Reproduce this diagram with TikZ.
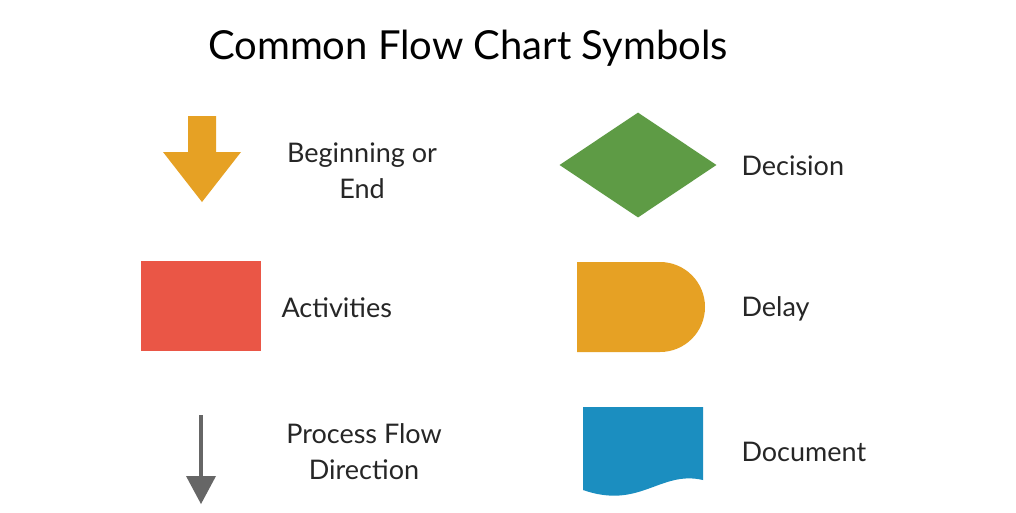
\documentclass[tikz,border=0pt]{standalone}
\usepackage{fontspec}
\setmainfont{Lato}
\usetikzlibrary{shapes.geometric}
\definecolor{symorange}{HTML}{E6A124}
\definecolor{symred}{HTML}{EA5646}
\definecolor{symgreen}{HTML}{5E9B45}
\definecolor{symblue}{HTML}{1B8EC0}
\definecolor{symgray}{HTML}{666666}
\tikzset{
  lbl/.style={font=\fontsize{27}{36}\selectfont, text=black!85, align=center},
  lblleft/.style={lbl, anchor=west}
}
\begin{document}
\begin{tikzpicture}[x=1pt,y=-1pt]
\useasboundingbox (0,0) rectangle (1016,512);
\fill[white] (0,0) rectangle (1016,512);
\node[font=\fontsize{40}{46}\selectfont] (title) at (468,48) {Common Flow Chart Symbols};
%%% left column
\fill[symorange] (188,116) -- (216,116) -- (216,152) -- (241,152) -- (202,202)
  -- (163,152) -- (188,152) -- cycle;
\node[lbl] (begin) at (362,171) {Beginning or\\End};
\fill[symred] (141,261) rectangle (261,351);
\node[lblleft] (act) at (278,308) {Activities};
\draw[symgray, line width=4pt] (201,415) -- (201,478);
\fill[symgray] (186,476) -- (216,476) -- (201,504) -- cycle;
\node[lbl] (flow) at (364,452) {Process Flow\\Direction};
%%% right column
\node[diamond, fill=symgreen, minimum width=157pt, minimum height=105pt,
  inner sep=0pt, aspect=1.5] (dec) at (638,165) {};
\node[lblleft] (decl) at (738,166) {Decision};
\fill[symorange] (577,262) -- (660,262) arc[start angle=-90, end angle=90, radius=45]
  -- (577,352) -- cycle;
\node[lblleft] (del) at (738,309) {Delay};
\fill[symblue] (583,407) -- (703,407) -- (703,480)
  .. controls (660,470) and (640,510) .. (583,490) -- cycle;
\node[lblleft] (doc) at (738,452) {Document};
\end{tikzpicture}
\end{document}
